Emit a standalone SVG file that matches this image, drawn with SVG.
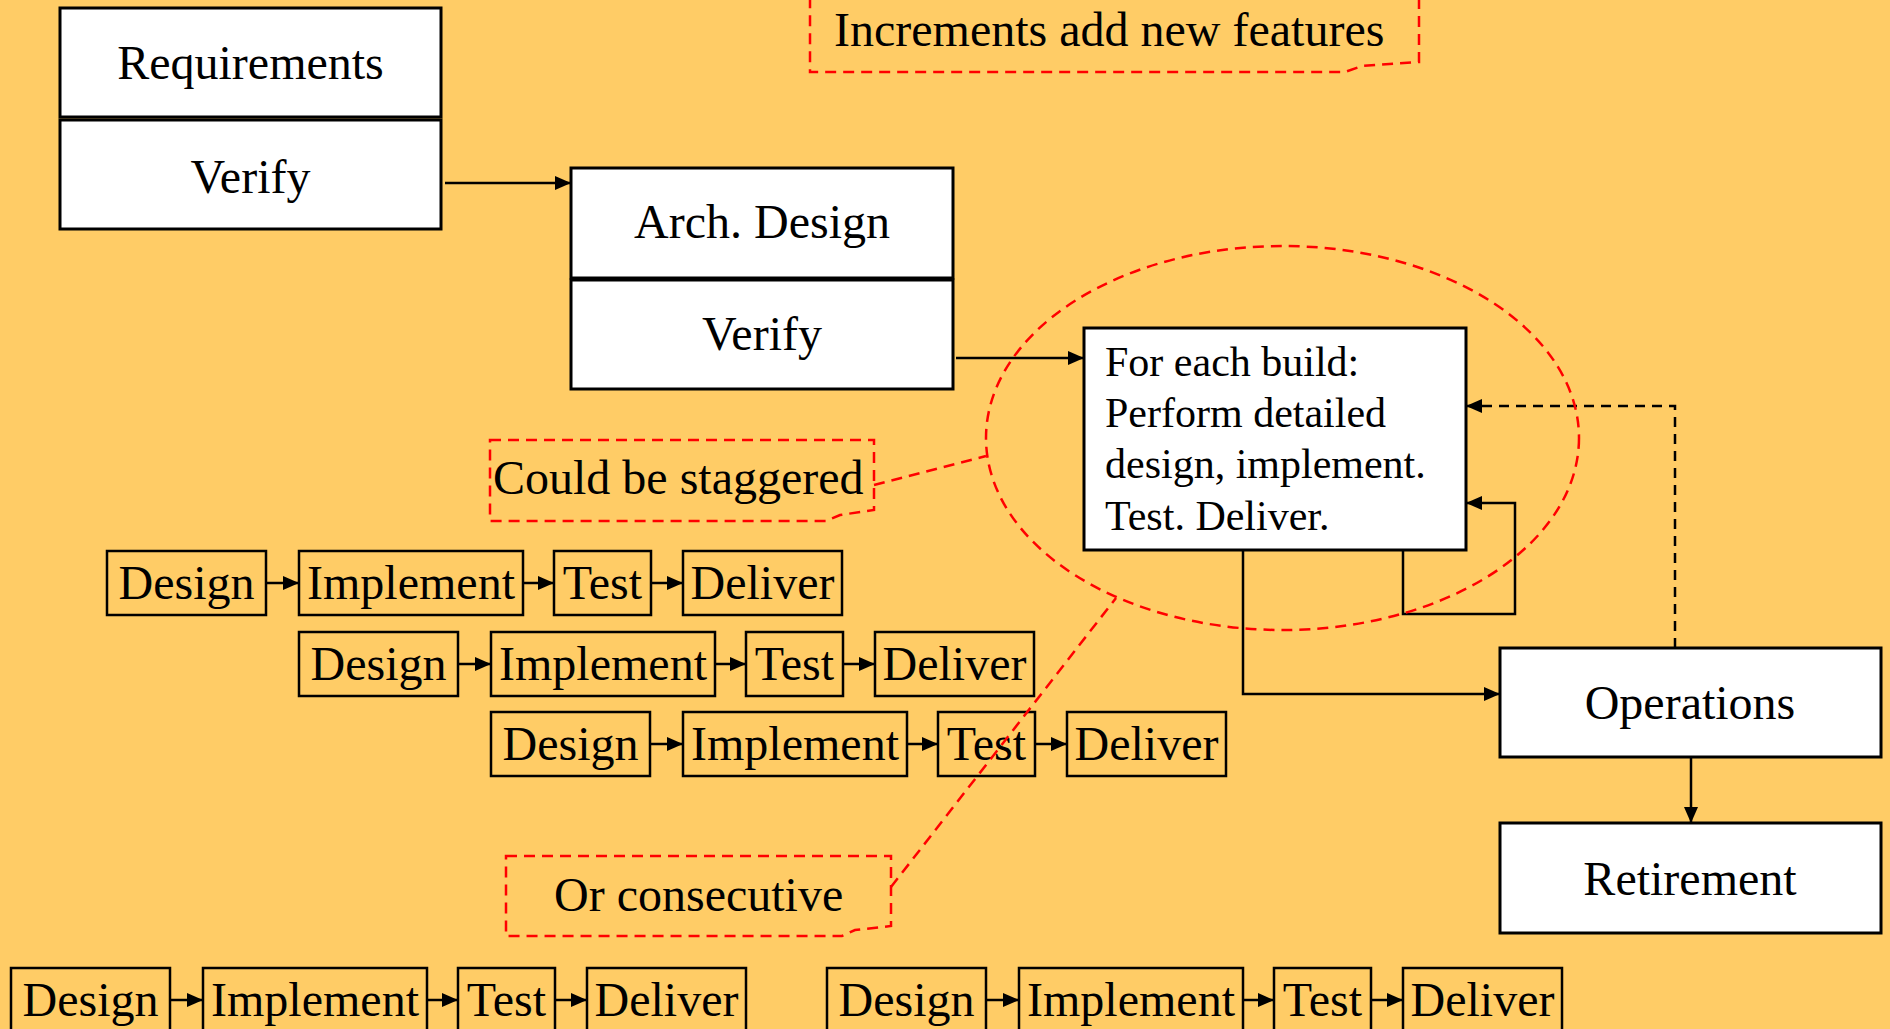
<svg xmlns="http://www.w3.org/2000/svg" width="1890" height="1029" viewBox="0 0 1890 1029">
<defs>
<marker id="ah" markerUnits="userSpaceOnUse" markerWidth="16" markerHeight="14" refX="16" refY="7" orient="auto"><path d="M0,0 L16,7 L0,14 z" fill="#000"/></marker>
</defs>
<style>
.wbox{fill:#fff;stroke:#000;stroke-width:3}
.sbox{fill:none;stroke:#000;stroke-width:2.5}
.t{font-family:"Liberation Serif","Times New Roman",serif;fill:#000;font-size:48px}
.m{font-size:42px}
.c{text-anchor:middle}
.conn{fill:none;stroke:#000;stroke-width:2.5}
.arr{marker-end:url(#ah)}
.dash{stroke-dasharray:10 7}
.red{fill:none;stroke:#FF0000;stroke-width:2.5;stroke-dasharray:11 7}
</style>
<rect width="1890" height="1029" fill="#FFCC66"/>

<g id="row1">
<g id="r1-design"><rect class="sbox" x="107" y="551" width="159" height="64"/><text class="t c" x="186.5" y="599">Design</text></g>
<g id="r1-implement"><rect class="sbox" x="299" y="551" width="224" height="64"/><text class="t c" x="411" y="599">Implement</text></g>
<g id="r1-test"><rect class="sbox" x="554" y="551" width="97" height="64"/><text class="t c" x="602.5" y="599">Test</text></g>
<g id="r1-deliver"><rect class="sbox" x="683" y="551" width="159" height="64"/><text class="t c" x="762.5" y="599">Deliver</text></g>
</g>
<g id="row2">
<g id="r2-design"><rect class="sbox" x="299" y="632" width="159" height="64"/><text class="t c" x="378.5" y="680">Design</text></g>
<g id="r2-implement"><rect class="sbox" x="491" y="632" width="224" height="64"/><text class="t c" x="603" y="680">Implement</text></g>
<g id="r2-test"><rect class="sbox" x="746" y="632" width="97" height="64"/><text class="t c" x="794.5" y="680">Test</text></g>
<g id="r2-deliver"><rect class="sbox" x="875" y="632" width="159" height="64"/><text class="t c" x="954.5" y="680">Deliver</text></g>
</g>
<g id="row3">
<g id="r3-design"><rect class="sbox" x="491" y="712" width="159" height="64"/><text class="t c" x="570.5" y="760">Design</text></g>
<g id="r3-implement"><rect class="sbox" x="683" y="712" width="224" height="64"/><text class="t c" x="795" y="760">Implement</text></g>
<g id="r3-test"><rect class="sbox" x="938" y="712" width="97" height="64"/><text class="t c" x="986.5" y="760">Test</text></g>
<g id="r3-deliver"><rect class="sbox" x="1067" y="712" width="159" height="64"/><text class="t c" x="1146.5" y="760">Deliver</text></g>
</g>
<g id="row4a">
<g id="r4a-design"><rect class="sbox" x="11" y="968" width="159" height="64"/><text class="t c" x="90.5" y="1016">Design</text></g>
<g id="r4a-implement"><rect class="sbox" x="203" y="968" width="224" height="64"/><text class="t c" x="315" y="1016">Implement</text></g>
<g id="r4a-test"><rect class="sbox" x="458" y="968" width="97" height="64"/><text class="t c" x="506.5" y="1016">Test</text></g>
<g id="r4a-deliver"><rect class="sbox" x="587" y="968" width="159" height="64"/><text class="t c" x="666.5" y="1016">Deliver</text></g>
</g>
<g id="row4b">
<g id="r4b-design"><rect class="sbox" x="827" y="968" width="159" height="64"/><text class="t c" x="906.5" y="1016">Design</text></g>
<g id="r4b-implement"><rect class="sbox" x="1019" y="968" width="224" height="64"/><text class="t c" x="1131" y="1016">Implement</text></g>
<g id="r4b-test"><rect class="sbox" x="1274" y="968" width="97" height="64"/><text class="t c" x="1322.5" y="1016">Test</text></g>
<g id="r4b-deliver"><rect class="sbox" x="1403" y="968" width="159" height="64"/><text class="t c" x="1482.5" y="1016">Deliver</text></g>
</g>

<g id="requirements"><rect class="wbox" x="60" y="8" width="381" height="109"/><text class="t c" x="250.5" y="79">Requirements</text></g>
<g id="req-verify"><rect class="wbox" x="60" y="120" width="381" height="109"/><text class="t c" x="250.5" y="193">Verify</text></g>
<g id="arch-design"><rect class="wbox" x="571" y="168" width="382" height="110"/><text class="t c" x="762" y="238">Arch. Design</text></g>
<g id="arch-verify"><rect class="wbox" x="571" y="280" width="382" height="109"/><text class="t c" x="762" y="350">Verify</text></g>
<g id="build"><rect class="wbox" x="1084" y="328" width="382" height="222"/>
<text class="t m" x="1105" y="376">For each build:</text>
<text class="t m" x="1105" y="427">Perform detailed</text>
<text class="t m" x="1105" y="478">design, implement.</text>
<text class="t m" x="1105" y="530">Test. Deliver.</text></g>
<g id="operations"><rect class="wbox" x="1500" y="648" width="381" height="109"/><text class="t c" x="1690" y="719">Operations</text></g>
<g id="retirement"><rect class="wbox" x="1500" y="823" width="381" height="110"/><text class="t c" x="1690" y="895">Retirement</text></g>

<g id="connectors">
<path class="conn arr" d="M445,183 H571"/>
<path class="conn arr" d="M956,358 H1084"/>
<path class="conn arr" d="M1243,550 V694 H1500"/>
<path class="conn arr" d="M1403,550 V614 H1515 V503 H1466"/>
<path class="conn arr dash" d="M1675,648 V406 H1466"/>
<path class="conn arr" d="M1691,757 V823"/>
<path class="conn arr" d="M266,583 H299"/>
<path class="conn arr" d="M523,583 H554"/>
<path class="conn arr" d="M651,583 H683"/>
<path class="conn arr" d="M458,664 H491"/>
<path class="conn arr" d="M715,664 H746"/>
<path class="conn arr" d="M843,664 H875"/>
<path class="conn arr" d="M650,744 H683"/>
<path class="conn arr" d="M907,744 H938"/>
<path class="conn arr" d="M1035,744 H1067"/>
<path class="conn arr" d="M170,1000 H203"/>
<path class="conn arr" d="M427,1000 H458"/>
<path class="conn arr" d="M555,1000 H587"/>
<path class="conn arr" d="M986,1000 H1019"/>
<path class="conn arr" d="M1243,1000 H1274"/>
<path class="conn arr" d="M1371,1000 H1403"/>
</g>

<g id="annotations">
<ellipse id="build-ellipse" class="red" cx="1282.5" cy="438" rx="296.5" ry="192"/>
<g id="callout-increments"><path class="red" d="M810,-5 H1419 V62 L1362,66 L1345,72 H810 Z"/><text class="t" x="834" y="46">Increments add new features</text></g>
<g id="callout-staggered"><path class="red" d="M490,440 H874 V510 L840,515 L826,521 H490 Z"/><path class="red" d="M874,485 L986,456"/><text class="t" x="493" y="494">Could be staggered</text></g>
<g id="callout-consecutive"><path class="red" d="M506,856 H891 V926 L855,930 L842,936 H506 Z"/><path class="red" d="M891,887 L1116,598"/><text class="t" x="554" y="911">Or consecutive</text></g>
</g>
</svg>
